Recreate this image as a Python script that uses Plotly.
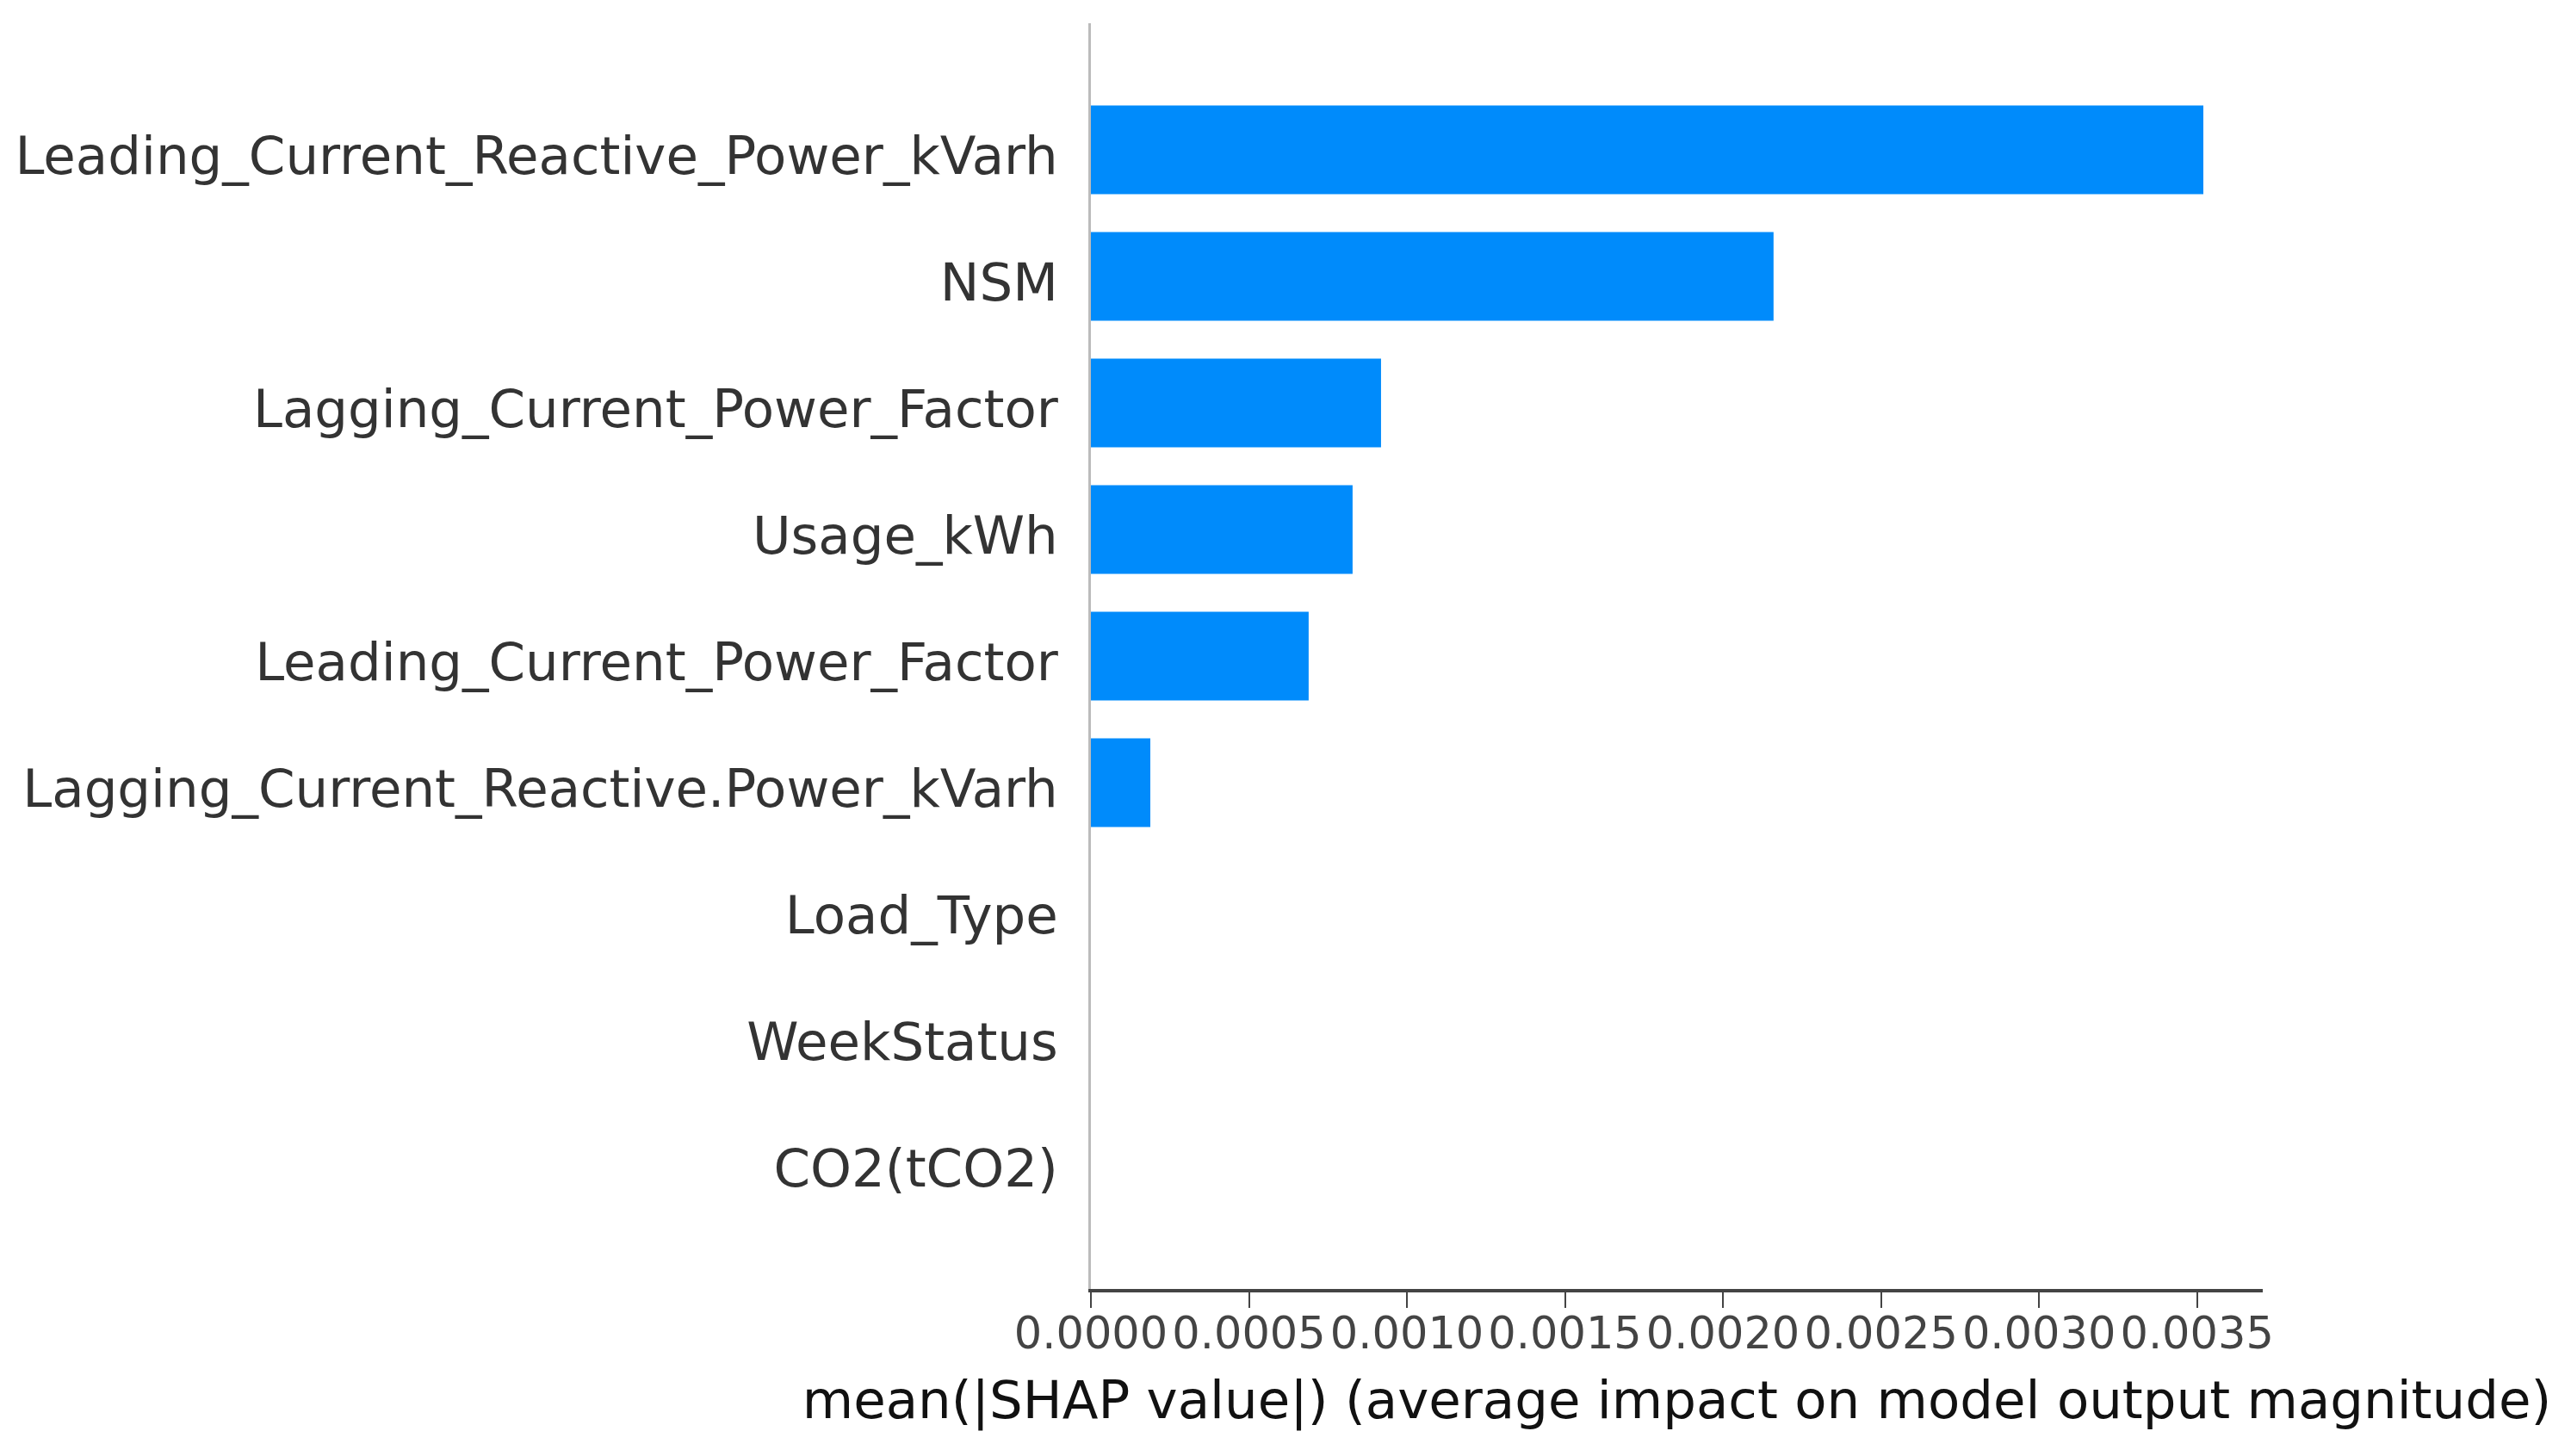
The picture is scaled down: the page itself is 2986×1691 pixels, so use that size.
import plotly.graph_objects as go

features = [
    "Leading_Current_Reactive_Power_kVarh",
    "NSM",
    "Lagging_Current_Power_Factor",
    "Usage_kWh",
    "Leading_Current_Power_Factor",
    "Lagging_Current_Reactive.Power_kVarh",
    "Load_Type",
    "WeekStatus",
    "CO2(tCO2)",
]
mean_abs_shap = [0.00352, 0.00216, 0.000918, 0.000828, 0.000689, 0.000188, 0.0, 0.0, 0.0]
tick_vals = [0.0, 0.0005, 0.0010, 0.0015, 0.0020, 0.0025, 0.0030, 0.0035]
tick_text = ["0.0000", "0.0005", "0.0010", "0.0015", "0.0020", "0.0025", "0.0030", "0.0035"]

FONT = "DejaVu Sans"

fig = go.Figure(
    go.Bar(
        x=mean_abs_shap,
        y=features,
        orientation="h",
        width=0.7,
        marker=dict(color="#008bfb", line=dict(width=0)),
    )
)

fig.update_layout(
    width=2986,
    height=1691,
    margin=dict(l=1259, r=366, t=19, b=202),
    paper_bgcolor="white",
    plot_bgcolor="white",
    showlegend=False,
    font=dict(family=FONT, color="#333333"),
    xaxis=dict(
        automargin=False,
        range=[0, 0.003708],
        tickvals=tick_vals,
        ticktext=tick_text,
        showgrid=False,
        zeroline=False,
        showline=True,
        linecolor="#444444",
        linewidth=4,
        ticks="outside",
        ticklen=18,
        tickwidth=2,
        tickcolor="#444444",
        ticklabelstandoff=-14,
        tickfont=dict(family=FONT, size=51, color="#444444"),
        title=dict(
            text="mean(|SHAP value|) (average impact on model output magnitude)",
            font=dict(family=FONT, size=61, color="#111111"),
            standoff=28,
        ),
    ),
    yaxis=dict(
        automargin=False,
        type="category",
        categoryorder="array",
        categoryarray=features,
        range=[9, -1],
        showgrid=False,
        zeroline=False,
        showline=True,
        linecolor="#bbbbbb",
        linewidth=3,
        ticks="",
        ticklabelstandoff=23,
        ticklabelshift=-7,
        tickfont=dict(family=FONT, size=61, color="#333333"),
    ),
)

fig.write_html("out.html")
